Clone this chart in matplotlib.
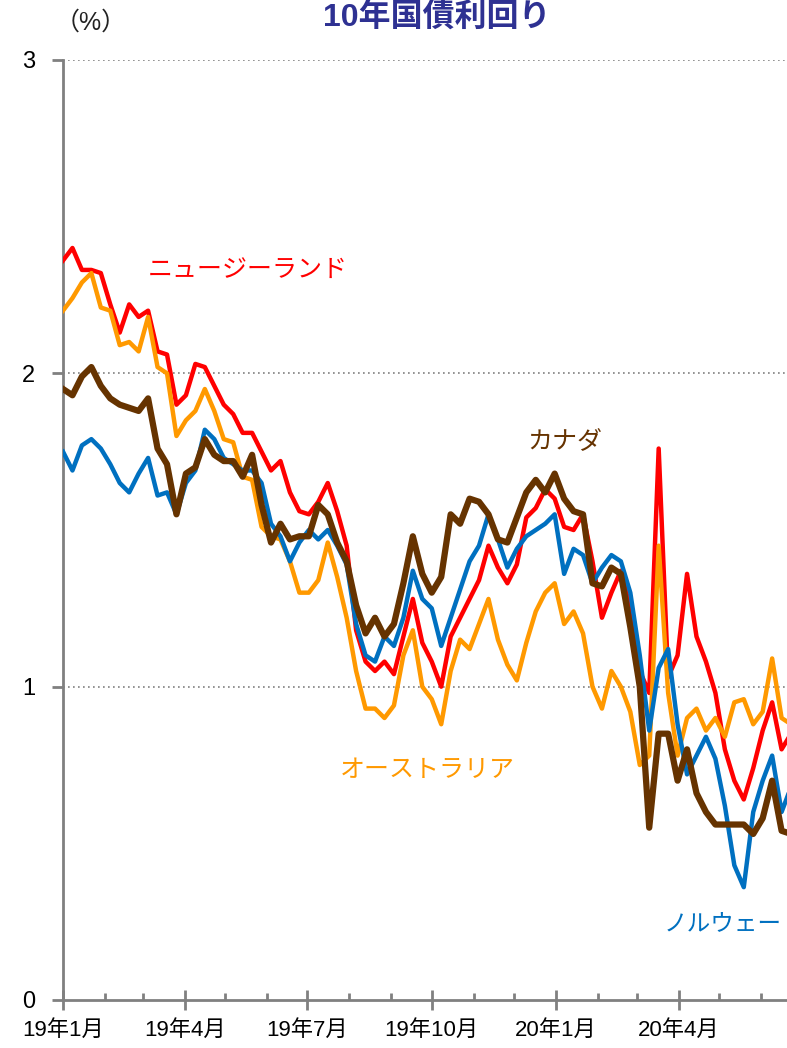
import numpy as np
import pandas as pd
import matplotlib
matplotlib.use('Agg')
import matplotlib.pyplot as plt
import matplotlib.dates as mdates

plt.rcParams['font.family'] = ['Liberation Sans', 'Noto Sans CJK JP', 'DejaVu Sans']

# weekly samples from 2019-01-01
dates = pd.date_range('2019-01-01', periods=78, freq='7D')

nz = [2.36, 2.40, 2.33, 2.33, 2.32, 2.22, 2.13, 2.22, 2.18, 2.20,
      2.07, 2.06, 1.90, 1.93, 2.03, 2.02, 1.96, 1.90, 1.87, 1.81,
      1.81, 1.75, 1.69, 1.72, 1.62, 1.56, 1.55, 1.59, 1.65, 1.56,
      1.45, 1.18, 1.08, 1.05, 1.08, 1.04, 1.16, 1.28, 1.14, 1.08,
      1.00, 1.16, 1.22, 1.28, 1.34, 1.45, 1.38, 1.33, 1.39, 1.54,
      1.57, 1.63, 1.60, 1.51, 1.50, 1.55, 1.40, 1.22, 1.30, 1.37,
      1.25, 1.05, 0.98, 1.76, 1.03, 1.10, 1.36, 1.16, 1.08, 0.98,
      0.80, 0.70, 0.64, 0.74, 0.86, 0.95, 0.80, 0.85]

au = [2.20, 2.24, 2.29, 2.32, 2.21, 2.20, 2.09, 2.10, 2.07, 2.18,
      2.02, 2.00, 1.80, 1.85, 1.88, 1.95, 1.88, 1.79, 1.78, 1.67,
      1.66, 1.51, 1.48, 1.47, 1.40, 1.30, 1.30, 1.34, 1.46, 1.35,
      1.22, 1.05, 0.93, 0.93, 0.90, 0.94, 1.10, 1.18, 1.00, 0.96,
      0.88, 1.05, 1.15, 1.12, 1.20, 1.28, 1.15, 1.07, 1.02, 1.14,
      1.24, 1.30, 1.33, 1.20, 1.24, 1.17, 1.00, 0.93, 1.05, 1.00,
      0.92, 0.75, 0.78, 1.45, 0.98, 0.78, 0.90, 0.93, 0.86, 0.90,
      0.84, 0.95, 0.96, 0.88, 0.92, 1.09, 0.90, 0.88]

no = [1.75, 1.69, 1.77, 1.79, 1.76, 1.71, 1.65, 1.62, 1.68, 1.73,
      1.61, 1.62, 1.55, 1.65, 1.69, 1.82, 1.79, 1.73, 1.71, 1.69,
      1.69, 1.65, 1.52, 1.48, 1.40, 1.46, 1.50, 1.47, 1.50, 1.45,
      1.39, 1.20, 1.10, 1.08, 1.16, 1.13, 1.22, 1.37, 1.28, 1.25,
      1.13, 1.22, 1.31, 1.40, 1.45, 1.55, 1.47, 1.38, 1.44, 1.48,
      1.50, 1.52, 1.55, 1.36, 1.44, 1.42, 1.33, 1.38, 1.42, 1.40,
      1.30, 1.10, 0.86, 1.06, 1.12, 0.88, 0.72, 0.78, 0.84, 0.77,
      0.62, 0.43, 0.36, 0.60, 0.70, 0.78, 0.60, 0.68]

ca = [1.95, 1.93, 1.99, 2.02, 1.96, 1.92, 1.90, 1.89, 1.88, 1.92,
      1.76, 1.71, 1.55, 1.68, 1.70, 1.79, 1.74, 1.72, 1.72, 1.67,
      1.74, 1.58, 1.46, 1.52, 1.47, 1.48, 1.48, 1.58, 1.55, 1.46,
      1.40, 1.26, 1.17, 1.22, 1.16, 1.20, 1.33, 1.48, 1.36, 1.30,
      1.35, 1.55, 1.52, 1.60, 1.59, 1.55, 1.47, 1.46, 1.54, 1.62,
      1.66, 1.62, 1.68, 1.60, 1.56, 1.55, 1.33, 1.32, 1.38, 1.36,
      1.19, 1.00, 0.55, 0.85, 0.85, 0.70, 0.80, 0.66, 0.60, 0.56,
      0.56, 0.56, 0.56, 0.53, 0.58, 0.70, 0.54, 0.53]

tick_dates = pd.to_datetime(['2019-01-01', '2019-04-01', '2019-07-01',
                             '2019-10-01', '2020-01-01', '2020-04-01'])
tick_labels = ['19年1月', '19年4月', '19年7月', '19年10月', '20年1月', '20年4月']

red = '#ff0000'
orange = '#ff9900'
blue = '#0070c0'
brown = '#663300'
axiscol = '#808080'

fig = plt.figure(figsize=(7.87, 10.48), dpi=100)
ax = fig.add_axes([63 / 787, 48 / 1048, 724 / 787, 940 / 1048])

ax.plot(dates, nz, color=red, lw=3.2, zorder=3)
ax.plot(dates, au, color=orange, lw=3.2, zorder=4)
ax.plot(dates, no, color=blue, lw=3.2, zorder=5)
ax.plot(dates, ca, color=brown, lw=4.5, zorder=6)

ax.set_ylim(0, 3)
ax.set_xlim(pd.Timestamp('2019-01-01'), pd.Timestamp('2020-06-20'))
ax.set_yticks([0, 1, 2, 3])
ax.set_yticklabels(['0', '1', '2', '3'], fontsize=17)
for v in [1, 2, 3]:
    ax.axhline(v, color='#808080', lw=1.2, ls=(0, (1, 2)), zorder=1)

ax.set_xticks(tick_dates)
ax.set_xticklabels(tick_labels, fontsize=16)
ax.xaxis.set_minor_locator(mdates.MonthLocator())
ax.tick_params(axis='x', which='major', direction='inout', length=14, width=2,
               color=axiscol, pad=7)
ax.tick_params(axis='x', which='minor', direction='in', length=5, width=2,
               color=axiscol)
ax.tick_params(axis='y', which='major', direction='out', length=8, width=2,
               color=axiscol, pad=12)

for s in ['top', 'right']:
    ax.spines[s].set_visible(False)
for s in ['left', 'bottom']:
    ax.spines[s].set_color(axiscol)
    ax.spines[s].set_linewidth(2)

# series labels
ax.text((148 - 63) / 724, (1000 - 270) / 940, 'ニュージーランド', color=red,
        fontsize=18, va='center', ha='left', transform=ax.transAxes)
ax.text((527 - 63) / 724, (1000 - 442) / 940, 'カナダ', color=brown,
        fontsize=18, va='center', ha='left', transform=ax.transAxes)
ax.text((340 - 63) / 724, (1000 - 770) / 940, 'オーストラリア', color=orange,
        fontsize=18, va='center', ha='left', transform=ax.transAxes)
ax.text((664 - 63) / 724, (1000 - 925) / 940, 'ノルウェー', color=blue,
        fontsize=17, va='center', ha='left', transform=ax.transAxes)

fig.text(437 / 787, 1 - 17 / 1048, '10年国債利回り', color='#2e3192',
         fontsize=23, fontweight='bold', ha='center', va='center')
fig.text(91 / 787, 1 - 23 / 1048, '（%）', color='#222222', fontsize=18,
         ha='center', va='center')

fig.savefig('out.png', dpi=100)
